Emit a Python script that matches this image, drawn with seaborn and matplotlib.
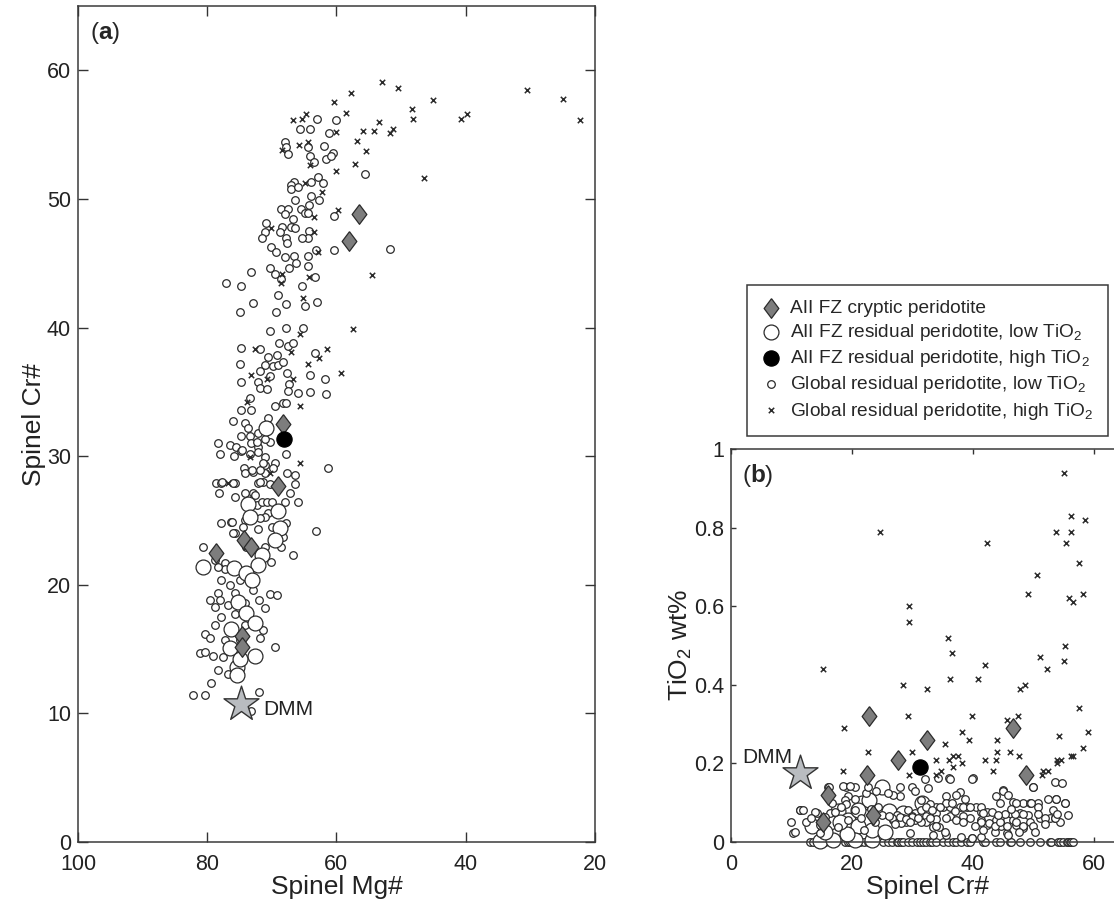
import matplotlib
matplotlib.use("Agg")
import matplotlib.pyplot as plt
import seaborn as sns
from matplotlib.ticker import FuncFormatter

sns.set_style("ticks")
plt.rcParams['font.family'] = ['Liberation Sans', 'DejaVu Sans']
plt.rcParams['mathtext.fontset'] = 'custom'
plt.rcParams['mathtext.rm'] = 'Liberation Sans'
plt.rcParams['mathtext.bf'] = 'Liberation Sans:bold'
plt.rcParams['mathtext.it'] = 'Liberation Sans:italic'

# ---- panel (a): spinel Mg# vs Cr# ----
# global residual peridotite, low TiO2 (Mg#, Cr#)
glob_low_a = [
    (63.0, 56.2), (60.1, 56.1), (65.6, 55.4), (64.1, 55.4), (61.2, 55.1), (68.0, 54.4), (67.8, 54.0),
    (67.5, 53.5), (64.4, 54.0), (64.1, 53.3), (63.5, 52.9), (61.9, 54.1), (60.5, 53.6), (61.6, 53.1),
    (60.9, 53.3), (55.6, 51.9), (62.9, 51.7), (63.9, 51.3), (66.6, 51.3), (67.0, 51.1), (67.0, 50.8),
    (66.0, 50.9), (62.1, 51.2), (63.9, 50.2), (62.7, 49.9), (66.4, 49.9), (68.6, 49.2), (67.5, 49.2),
    (65.5, 49.2), (64.9, 48.9), (64.4, 48.9), (64.3, 49.5), (68.0, 48.8), (66.7, 48.4), (67.0, 47.8),
    (66.4, 47.7), (70.9, 48.1), (71.1, 47.4), (71.5, 47.0), (68.4, 47.8), (68.7, 47.4), (67.8, 47.0),
    (67.7, 46.6), (64.3, 47.5), (64.4, 47.0), (65.3, 47.0), (60.4, 48.7), (60.4, 46.0), (70.1, 46.3),
    (69.4, 45.9), (68.0, 45.5), (66.6, 45.6), (66.3, 45.0), (67.4, 44.6), (64.4, 45.6), (64.4, 44.8),
    (63.2, 46.0), (73.2, 44.3), (70.3, 44.6), (69.5, 44.2), (68.6, 43.8), (63.3, 43.9), (65.3, 43.2),
    (77.1, 43.5), (74.8, 43.2), (69.1, 42.5), (51.7, 46.1),
    (72.9, 41.9), (74.9, 41.2), (69.4, 41.2), (67.8, 41.8), (64.9, 41.7), (63.0, 42.0), (70.3, 39.7),
    (67.8, 40.0), (65.2, 40.0), (74.8, 38.4), (71.8, 38.3), (68.9, 38.8), (67.5, 38.6), (66.7, 38.8),
    (70.6, 37.7), (69.2, 37.9), (63.3, 38.0), (74.9, 37.2), (71.1, 37.1), (69.8, 37.0), (69.1, 37.1),
    (68.3, 37.3), (71.8, 36.6), (70.3, 36.2), (67.7, 36.5), (67.4, 35.6), (67.5, 35.1), (64.1, 36.3),
    (61.8, 36.0), (74.8, 35.8), (72.1, 35.8), (71.8, 35.3), (70.8, 35.2), (66.0, 34.9), (64.1, 35.0),
    (61.6, 34.8), (73.4, 34.5), (74.8, 33.6), (73.2, 33.6), (69.5, 33.9), (68.3, 34.1), (67.8, 34.1),
    (70.6, 33.0), (76.0, 32.7), (74.2, 32.6), (73.7, 32.2), (74.8, 31.6), (73.4, 31.6), (72.1, 31.8),
    (78.3, 31.0), (76.5, 30.9), (78.0, 30.2), (75.6, 30.7), (74.8, 30.4), (75.9, 30.0), (73.2, 31.0),
    (72.1, 30.7), (70.3, 31.1), (67.8, 30.2), (61.3, 29.1), (74.3, 29.1), (74.2, 28.7), (72.9, 28.8),
    (69.5, 29.5), (69.8, 29.1), (71.1, 29.9), (71.1, 29.3), (71.1, 28.7), (67.7, 28.7), (66.4, 28.5),
    (66.4, 27.8), (78.6, 27.9), (77.9, 27.9), (75.7, 27.9), (78.2, 27.1), (72.1, 27.9), (71.4, 28.0),
    (67.2, 27.1), (66.0, 26.4), (75.7, 26.8), (74.2, 27.1), (72.9, 27.1), (68.0, 26.4), (77.9, 24.8),
    (76.3, 24.9), (70.6, 25.6), (71.1, 25.3), (67.8, 24.8), (63.2, 24.2), (72.1, 24.3), (75.7, 24.0),
    (74.0, 22.9), (71.1, 22.9), (68.6, 22.9), (66.7, 22.3), (80.7, 22.9), (78.8, 21.9), (77.3, 21.7),
    (74.6, 30.5), (72.3, 31.1), (71.1, 31.3), (73.4, 30.2), (72.1, 30.3), (73.1, 28.9), (71.8, 28.9),
    (71.4, 29.5), (70.3, 27.8), (71.8, 28.0), (77.7, 28.0), (76.0, 27.9), (72.6, 27.0), (72.3, 26.2),
    (71.5, 26.4), (70.8, 26.4), (70.0, 26.4), (76.2, 24.9), (74.2, 25.0), (71.8, 25.2), (70.0, 24.5),
    (68.3, 23.7), (76.0, 24.0), (74.5, 24.5),
    (70.1, 21.8), (70.3, 19.3), (69.2, 19.2), (79.6, 18.8), (78.3, 19.4), (78.8, 18.3), (77.9, 17.5),
    (78.8, 16.9), (80.3, 16.2), (79.6, 15.9), (81.1, 14.7), (80.3, 14.8), (79.1, 14.5), (77.6, 14.4),
    (78.3, 13.4), (76.8, 13.1), (79.4, 12.4), (82.2, 11.4), (80.3, 11.4), (72.0, 11.7), (73.2, 10.2),
    (69.5, 15.2), (71.8, 15.9), (71.4, 16.5), (71.1, 18.2), (72.0, 18.8), (74.2, 18.6), (72.9, 19.6),
    (75.7, 19.4), (77.9, 20.4), (77.3, 21.2), (78.3, 21.4), (76.5, 20.0), (74.9, 20.4), (76.8, 18.4),
    (75.7, 17.7), (74.2, 16.9), (77.3, 15.7), (76.2, 14.9), (74.9, 15.7), (78.0, 18.8),
]
# global residual peridotite, high TiO2
glob_high_a = [
    (57.8, 58.2), (60.4, 57.5), (58.5, 56.7), (64.7, 56.6), (65.3, 56.2), (66.7, 56.1), (60.1, 55.2),
    (55.9, 55.3), (54.2, 55.3), (56.8, 54.5), (55.4, 53.7), (57.1, 52.7), (60.1, 52.2), (65.8, 54.2),
    (64.4, 54.4), (68.4, 53.8), (64.1, 52.6), (64.9, 51.2), (62.2, 50.5), (59.8, 49.1), (63.5, 48.6),
    (70.1, 47.7), (63.5, 47.4), (62.9, 45.9), (54.5, 44.1), (64.3, 43.9), (68.6, 43.5), (68.4, 44.2),
    (65.2, 42.3), (53.0, 59.1), (50.5, 58.6), (45.1, 57.7), (30.5, 58.5), (25.0, 57.8), (22.3, 56.1),
    (40.7, 56.2), (39.8, 56.6), (48.3, 57.0), (48.2, 56.2), (53.4, 56.0), (51.3, 55.4), (51.7, 55.1),
    (46.5, 51.6), (57.4, 39.9), (72.6, 38.3), (67.0, 38.1), (65.6, 39.5), (61.5, 38.3), (62.7, 37.6),
    (59.3, 36.5), (64.4, 37.2), (73.2, 36.3), (70.8, 36.0), (66.7, 36.0), (65.6, 33.9), (73.8, 34.2),
    (65.6, 29.5), (73.4, 29.9), (76.8, 27.9), (70.3, 28.7),
]
# AII FZ residual peridotite, low TiO2
aii_low_a = [
    (70.9, 32.2), (73.7, 26.3), (69.1, 25.7), (73.4, 25.3), (68.7, 24.4), (69.5, 23.5), (71.5, 22.3),
    (80.7, 21.4), (75.9, 21.3), (72.1, 21.5), (74.0, 20.9), (73.1, 20.4), (75.2, 18.7), (74.0, 17.8),
    (72.6, 17.0), (76.3, 16.6), (76.5, 15.1), (72.6, 14.5), (75.4, 13.6), (75.4, 13.0), (74.9, 14.2),
]
# AII FZ cryptic peridotite (Mg#, Cr#, TiO2)
cryptic = [
    (56.5, 48.8, 0.17), (58.1, 46.7, 0.29), (68.3, 32.5, 0.26), (69.1, 27.7, 0.21), (74.3, 23.5, 0.07),
    (73.2, 22.9, 0.32), (78.6, 22.5, 0.17), (74.6, 16.0, 0.12), (74.6, 15.2, 0.05),
]
# AII FZ residual peridotite, high TiO2 (Mg#, Cr#, TiO2)
aii_high = [(68.1, 31.3, 0.19)]
# DMM reference composition
dmm_a = (74.8, 10.7)
dmm_b = (11.4, 0.175)

# ---- panel (b): Cr# vs TiO2 ----
glob_low_zero_b = [
    13.1, 13.6, 14.4, 15.5, 17.2, 18.8, 19.4, 19.7, 20.2, 20.5, 20.8, 21.3, 22.1, 22.7, 25.2, 26.0,
    26.6, 27.4, 27.7, 28.2, 28.5, 29.3, 29.9, 30.7, 31.2, 31.8, 32.3, 32.9, 33.2, 34.0, 35.1, 35.9,
    36.8, 37.3, 38.1, 39.0, 39.5, 41.7, 42.0, 43.9, 44.5, 46.1, 46.4, 47.8, 49.4, 51.1, 52.7, 53.0,
    54.1, 54.4, 54.9, 55.5, 55.8, 56.0, 56.3, 56.5,
]
glob_low_b = [
    (10.0, 0.052), (10.3, 0.022), (11.4, 0.081), (16.1, 0.141), (19.1, 0.141), (20.5, 0.141),
    (19.4, 0.116), (27.9, 0.141), (29.9, 0.141), (34.3, 0.162), (36.0, 0.162), (40.1, 0.162),
    (37.9, 0.128), (35.6, 0.116), (34.0, 0.090), (35.1, 0.090), (36.3, 0.090), (37.9, 0.090),
    (39.0, 0.090), (40.6, 0.090), (41.4, 0.077), (42.3, 0.077), (43.9, 0.116), (45.0, 0.133),
    (46.7, 0.103), (48.3, 0.100), (49.4, 0.100), (50.8, 0.100), (52.4, 0.110), (53.8, 0.110),
    (55.2, 0.100), (50.0, 0.141), (53.6, 0.152), (51.1, 0.061), (52.7, 0.061), (53.6, 0.061),
    (54.4, 0.052), (43.9, 0.056), (45.6, 0.056), (46.7, 0.056), (44.7, 0.040), (47.2, 0.044),
    (48.3, 0.035), (47.8, 0.073), (49.2, 0.069), (41.4, 0.056), (42.3, 0.044), (43.6, 0.026),
    (45.6, 0.022), (41.4, 0.014), (39.8, 0.009), (35.6, 0.018), (33.4, 0.039), (34.4, 0.039),
    (32.3, 0.065), (34.0, 0.073), (36.3, 0.065), (39.5, 0.061), (38.4, 0.065), (29.6, 0.022),
    (29.3, 0.081), (30.4, 0.073), (31.5, 0.081), (27.9, 0.116), (26.8, 0.120), (32.9, 0.098),
    (18.8, 0.107), (16.4, 0.073), (14.2, 0.073), (14.7, 0.022), (26.8, 0.056), (27.7, 0.052),
    (28.5, 0.061), (29.0, 0.052), (29.9, 0.065), (30.4, 0.056), (27.4, 0.069),
    (32.1, 0.160), (36.3, 0.160), (39.9, 0.160), (49.9, 0.140), (54.8, 0.150), (53.8, 0.110),
    (55.3, 0.100), (45.0, 0.130), (45.8, 0.120), (44.5, 0.100), (47.1, 0.100), (49.7, 0.100),
    (50.8, 0.090), (41.4, 0.090), (37.2, 0.120), (38.7, 0.110), (35.5, 0.100), (36.5, 0.100),
    (38.4, 0.090), (39.5, 0.090), (34.5, 0.088), (32.3, 0.088), (41.7, 0.073), (43.1, 0.077),
    (45.4, 0.071), (47.0, 0.071), (48.3, 0.071), (50.8, 0.071), (51.9, 0.060), (53.3, 0.081),
    (53.6, 0.060), (54.0, 0.071), (41.4, 0.052), (42.6, 0.048), (43.6, 0.040), (44.5, 0.052),
    (45.6, 0.040), (47.2, 0.052), (48.3, 0.040), (49.4, 0.052), (41.7, 0.030), (45.8, 0.018),
    (47.7, 0.026), (50.0, 0.040), (50.3, 0.026), (35.6, 0.060), (37.3, 0.056), (38.4, 0.052),
    (33.9, 0.058), (32.3, 0.052), (35.4, 0.026), (38.1, 0.013), (39.8, 0.011), (33.9, 0.040),
    (33.4, 0.018), (16.2, 0.140), (18.6, 0.142), (19.7, 0.142), (22.4, 0.124), (26.0, 0.124),
    (11.4, 0.082), (11.9, 0.082), (13.9, 0.077), (10.6, 0.026), (17.2, 0.077), (20.5, 0.082),
    (19.1, 0.098), (20.5, 0.110), (30.4, 0.130), (31.5, 0.107), (32.6, 0.137), (33.2, 0.082),
    (12.5, 0.052), (14.7, 0.043), (15.5, 0.064), (17.7, 0.039), (19.4, 0.056), (21.6, 0.060),
    (23.8, 0.052), (25.0, 0.069), (26.6, 0.060), (28.2, 0.048), (29.9, 0.064), (31.5, 0.052),
    (32.9, 0.060), (22.7, 0.140), (24.0, 0.130),
    (28.0, 0.064), (28.9, 0.058), (29.6, 0.050), (30.9, 0.062), (27.2, 0.047), (26.2, 0.066),
    (24.4, 0.090), (23.1, 0.085), (22.0, 0.030), (18.3, 0.088), (16.8, 0.100), (13.2, 0.060),
    (37.0, 0.078), (40.3, 0.040), (44.2, 0.068), (46.3, 0.085), (52.0, 0.045), (55.8, 0.070),
]
glob_high_b = [
    (55.0, 0.94), (56.2, 0.83), (58.5, 0.82), (53.7, 0.79), (56.2, 0.79), (55.4, 0.76), (24.6, 0.79),
    (42.3, 0.76), (57.5, 0.71), (50.6, 0.68), (49.1, 0.63), (55.9, 0.62), (56.5, 0.61), (58.3, 0.63),
    (29.4, 0.60), (29.4, 0.56), (35.9, 0.52), (36.5, 0.48), (55.2, 0.50), (51.1, 0.47), (55.0, 0.46),
    (52.2, 0.44), (42.1, 0.45), (15.2, 0.44), (36.2, 0.415), (40.8, 0.415), (28.4, 0.40), (32.4, 0.39),
    (47.8, 0.39), (48.6, 0.40), (57.5, 0.34), (59.0, 0.28), (58.2, 0.24), (56.2, 0.22), (56.5, 0.22),
    (54.2, 0.27), (53.9, 0.21), (54.0, 0.20), (54.5, 0.21), (51.6, 0.18), (52.4, 0.18), (47.4, 0.32),
    (45.6, 0.31), (47.6, 0.22), (46.1, 0.23), (44.0, 0.26), (44.0, 0.23), (43.8, 0.21), (43.3, 0.18),
    (42.1, 0.21), (39.8, 0.32), (38.2, 0.28), (39.3, 0.26), (35.4, 0.25), (33.9, 0.21), (36.0, 0.21),
    (36.7, 0.22), (37.5, 0.22), (38.2, 0.20), (36.7, 0.19), (34.7, 0.18), (34.0, 0.17), (29.9, 0.23),
    (29.4, 0.17), (29.3, 0.32), (22.6, 0.23), (18.7, 0.29), (18.5, 0.18), (51.4, 0.17),
]
aii_low_b = [
    (14.7, 0.003), (16.9, 0.006), (17.7, 0.080), (16.4, 0.050), (13.4, 0.040), (19.3, 0.055),
    (21.0, 0.040), (21.7, 0.100), (20.5, 0.006), (23.3, 0.006), (23.3, 0.030), (25.0, 0.140),
    (25.5, 0.025), (26.1, 0.080), (31.6, 0.100), (19.2, 0.020), (15.5, 0.025), (22.9, 0.107),
    (21.0, 0.082), (28.5, 0.073), (18.0, 0.052),
]

labels = [
    "AII FZ cryptic peridotite",
    "AII FZ residual peridotite, low TiO$_2$",
    "AII FZ residual peridotite, high TiO$_2$",
    "Global residual peridotite, low TiO$_2$",
    "Global residual peridotite, high TiO$_2$",
]

diamond = [(0, 1), (0.75, 0), (0, -1), (-0.75, 0), (0, 1)]
DARK = '#2b2b2b'
small = dict(marker='o', s=30, color='white', edgecolor=DARK, linewidth=0.9)
large = dict(marker='o', s=115, color='white', edgecolor=DARK, linewidth=0.9)
cross = dict(marker='x', s=15, color=DARK, linewidth=1.1)
dia = dict(marker=diamond, s=200, color='#7d7d7d', edgecolor=DARK, linewidth=0.9)
dot = dict(marker='o', s=120, color='black', edgecolor='black', linewidth=0.9)
star = dict(marker='*', s=700, color='#b9bcc0', edgecolor='#333333', linewidth=1.0)

fig = plt.figure(figsize=(11.14, 9.06), dpi=100)
ax_a = fig.add_axes([0.070, 0.0706, 0.464, 0.9228])
ax_b = fig.add_axes([0.656, 0.0706, 0.353, 0.4338])


def xs(pts, i=0):
    return [p[i] for p in pts]


# panel (a)
sns.scatterplot(x=xs(glob_low_a), y=xs(glob_low_a, 1), ax=ax_a, zorder=2, **small)
sns.scatterplot(x=xs(glob_high_a), y=xs(glob_high_a, 1), ax=ax_a, zorder=2, **cross)
sns.scatterplot(x=xs(aii_low_a), y=xs(aii_low_a, 1), ax=ax_a, zorder=3, **large)
sns.scatterplot(x=xs(cryptic), y=xs(cryptic, 1), ax=ax_a, zorder=4, **dia)
sns.scatterplot(x=xs(aii_high), y=xs(aii_high, 1), ax=ax_a, zorder=4, **dot)
sns.scatterplot(x=[dmm_a[0]], y=[dmm_a[1]], ax=ax_a, zorder=5, **star)
ax_a.annotate("DMM", dmm_a, xytext=(16, -4), textcoords='offset points',
              ha='left', va='center', fontsize=15, color='#222222')

# panel (b)
sns.scatterplot(x=glob_low_zero_b, y=[0.0] * len(glob_low_zero_b), ax=ax_b, zorder=2, clip_on=False, **small)
sns.scatterplot(x=xs(aii_low_b), y=xs(aii_low_b, 1), ax=ax_b, zorder=2, clip_on=False, **large)
sns.scatterplot(x=xs(glob_low_b), y=xs(glob_low_b, 1), ax=ax_b, zorder=3, clip_on=False, **small)
sns.scatterplot(x=xs(glob_high_b), y=xs(glob_high_b, 1), ax=ax_b, zorder=3, **cross)
sns.scatterplot(x=xs(cryptic, 1), y=xs(cryptic, 2), ax=ax_b, zorder=4, **dia)
sns.scatterplot(x=xs(aii_high, 1), y=xs(aii_high, 2), ax=ax_b, zorder=4, **dot)
sns.scatterplot(x=[dmm_b[0]], y=[dmm_b[1]], ax=ax_b, zorder=5, **star)
ax_b.annotate("DMM", dmm_b, xytext=(-5, 11), textcoords='offset points',
              ha='right', va='center', fontsize=15, color='#222222')

# axes styling
ax_a.set_xlim(100, 20)
ax_a.set_ylim(0, 65)
ax_a.set_xticks([100, 80, 60, 40, 20])
ax_a.set_yticks([0, 10, 20, 30, 40, 50, 60])
ax_a.set_xlabel("Spinel Mg#", fontsize=19, labelpad=0)
ax_a.set_ylabel("Spinel Cr#", fontsize=19, labelpad=1)

ax_b.set_xlim(0, 65)
ax_b.set_ylim(0, 1)
ax_b.set_xticks([0, 20, 40, 60])
ax_b.set_yticks([0, 0.2, 0.4, 0.6, 0.8, 1.0])
ax_b.yaxis.set_major_formatter(FuncFormatter(lambda v, p: f"{v:g}"))
ax_b.set_xlabel("Spinel Cr#", fontsize=19, labelpad=0)
ax_b.set_ylabel("TiO$_2$ wt%", fontsize=19, labelpad=0)

for ax, tl in ((ax_a, 7), (ax_b, 3.5)):
    ax.tick_params(direction='in', top=True, right=True, length=tl, width=1.0,
                   labelsize=15.5, color='#333333', labelcolor='#222222')
    ax.tick_params(axis='x', pad=8.5)
    ax.tick_params(axis='y', pad=5)
    for sp in ax.spines.values():
        sp.set_visible(True)
        sp.set_color('#3a3a3a')
        sp.set_linewidth(1.1)
    ax.xaxis.label.set_color('#222222')
    ax.yaxis.label.set_color('#222222')

ax_a.annotate(r"($\mathbf{a}$)", (0, 1), xycoords='axes fraction', xytext=(9, -10),
              textcoords='offset points', ha='left', va='top', fontsize=17.5)
ax_b.annotate(r"($\mathbf{b}$)", (0, 1), xycoords='axes fraction', xytext=(8, -9),
              textcoords='offset points', ha='left', va='top', fontsize=17.5)

# legend from panel (a) collections
col = ax_a.collections
handles = [col[3], col[2], col[4], col[0], col[1]]
fig.legend(handles, labels, loc='upper left', bbox_to_anchor=(0.6706, 0.6854),
           frameon=True, fancybox=False, edgecolor='#3a3a3a', framealpha=1,
           fontsize=13.8, borderpad=0.75, labelspacing=0.27, handletextpad=0.5,
           handlelength=1.0, borderaxespad=0, scatterpoints=1)
fig.legends[0].get_frame().set_linewidth(1.1)

fig.savefig("out.png", dpi=100)
